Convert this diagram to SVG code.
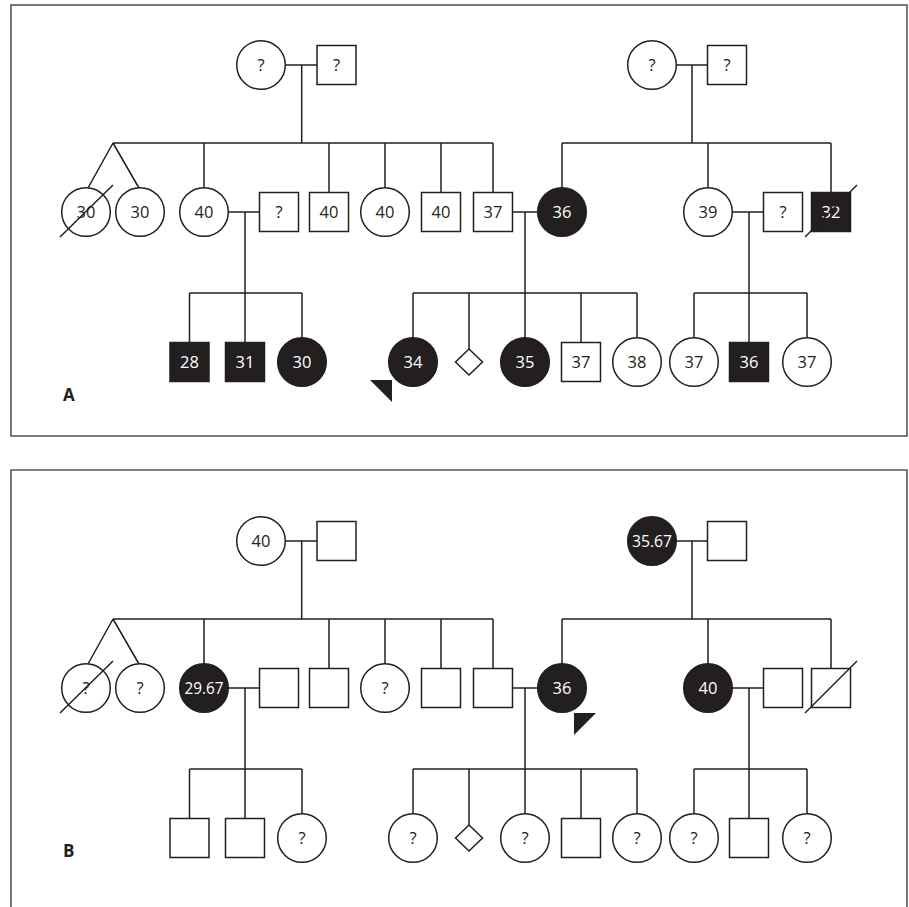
<svg xmlns="http://www.w3.org/2000/svg" width="909" height="907" viewBox="0 0 909 907">
<style>
.frame{fill:none;stroke:#58595b;stroke-width:1.6}
.n{fill:#fff;stroke:#231f20;stroke-width:1.5}
.f{fill:#231f20;stroke:#231f20;stroke-width:1.5}
.l{fill:none;stroke:#231f20;stroke-width:1.5}
.t{font-family:"Open Sans","Liberation Sans",sans-serif;font-size:16.5px;text-anchor:middle;fill:#231f20}
.tw{font-family:"Open Sans","Liberation Sans",sans-serif;font-size:16.5px;text-anchor:middle;fill:#fff}
.lab{font-family:"Open Sans","Liberation Sans",sans-serif;font-size:17px;font-weight:bold;fill:#231f20}
</style>
<rect width="909" height="907" fill="#fff"/>
<rect class="frame" x="11" y="5" width="896" height="431"/>
<path class="frame" d="M11,910 V470 H907 V910"/>

<g id="connectors-A">
<path class="l" d="M285.3,65 H317 M301.7,65 V143 M113,143 H493 M113,143 L88,188 M113,143 L139,188 M204,143 V187.7 M329,143 V192.5 M385,143 V187.7 M441,143 V192.5 M493,143 V192.5"/>
<path class="l" d="M676.3,65 H707.5 M692,65 V143 M562,143 H831 M562,143 V187.7 M708,143 V187.7 M831,143 V192.5"/>
<path class="l" d="M228.3,212 H259.5 M245,212 V342.5 M189.5,293 H302 M189.5,293 V342.5 M302,293 V337.7"/>
<path class="l" d="M512.5,212 H537.7 M525,212 V337.7 M413,293 H637 M413,293 V337.7 M469,293 V349 M581,293 V342.5 M637,293 V337.7"/>
<path class="l" d="M732.3,212 H763.5 M749,212 V342.5 M694,293 H807 M694,293 V337.7 M807,293 V337.7"/>
</g>

<g id="connectors-B">
<path class="l" d="M285.3,541 H317 M301.7,541 V619 M113,619 H493 M113,619 L88,664 M113,619 L139,664 M204,619 V663.7 M329,619 V668.5 M385,619 V663.7 M441,619 V668.5 M493,619 V668.5"/>
<path class="l" d="M676.3,541 H707.5 M692,541 V619 M562,619 H831 M562,619 V663.7 M708,619 V663.7 M831,619 V668.5"/>
<path class="l" d="M228.3,688 H259.5 M245,688 V818.5 M189.5,769 H302 M189.5,769 V818.5 M302,769 V813.7"/>
<path class="l" d="M512.5,688 H537.7 M525,688 V813.7 M413,769 H637 M413,769 V813.7 M469,769 V825 M581,769 V818.5 M637,769 V813.7"/>
<path class="l" d="M732.3,688 H763.5 M749,688 V818.5 M694,769 H807 M694,769 V813.7 M807,769 V813.7"/>
</g>

<!-- Panel A -->
<g id="a-gm1"><circle class="n" cx="261" cy="65" r="24.3"/><text class="t" x="261" y="71">?</text></g>
<g id="a-gf1"><rect class="n" x="317" y="45.5" width="39" height="39"/><text class="t" x="336.5" y="71">?</text></g>
<g id="a-gm2"><circle class="n" cx="652" cy="65" r="24.3"/><text class="t" x="652" y="71">?</text></g>
<g id="a-gf2"><rect class="n" x="707.5" y="45.5" width="39" height="39"/><text class="t" x="727" y="71">?</text></g>

<g id="a-tw1"><circle class="n" cx="86" cy="212" r="24.3"/><text class="t" x="86" y="218">30</text><path class="l" d="M60,237 L113,185"/></g>
<g id="a-tw2"><circle class="n" cx="140" cy="212" r="24.3"/><text class="t" x="140" y="218">30</text></g>
<g id="a-c40"><circle class="n" cx="204" cy="212" r="24.3"/><text class="t" x="204" y="218">40</text></g>
<g id="a-sp1"><rect class="n" x="259.5" y="192.5" width="39" height="39"/><text class="t" x="279" y="218">?</text></g>
<g id="a-s40a"><rect class="n" x="309.5" y="192.5" width="39" height="39"/><text class="t" x="329" y="218">40</text></g>
<g id="a-c40b"><circle class="n" cx="385" cy="212" r="24.3"/><text class="t" x="385" y="218">40</text></g>
<g id="a-s40b"><rect class="n" x="421.5" y="192.5" width="39" height="39"/><text class="t" x="441" y="218">40</text></g>
<g id="a-s37"><rect class="n" x="473.5" y="192.5" width="39" height="39"/><text class="t" x="493" y="218">37</text></g>
<g id="a-c36"><circle class="f" cx="562" cy="212" r="24.3"/><text class="tw" x="562" y="218">36</text></g>
<g id="a-c39"><circle class="n" cx="708" cy="212" r="24.3"/><text class="t" x="708" y="218">39</text></g>
<g id="a-sp2"><rect class="n" x="763.5" y="192.5" width="39" height="39"/><text class="t" x="783" y="218">?</text></g>
<g id="a-s32"><rect class="f" x="811.5" y="192.5" width="39" height="39"/><text class="tw" x="831" y="218">32</text><path class="l" d="M805,237 L857,185"/></g>

<g id="a-s28"><rect class="f" x="170" y="342.5" width="39" height="39"/><text class="tw" x="189.5" y="368">28</text></g>
<g id="a-s31"><rect class="f" x="225.5" y="342.5" width="39" height="39"/><text class="tw" x="245" y="368">31</text></g>
<g id="a-c30"><circle class="f" cx="302" cy="362" r="24.3"/><text class="tw" x="302" y="368">30</text></g>
<g id="a-c34"><circle class="f" cx="413" cy="362" r="24.3"/><text class="tw" x="413" y="368">34</text><polygon fill="#231f20" points="370,380 392,380 392,402"/></g>
<g id="a-d"><polygon class="n" points="469,349 482.5,362 469,375 455.5,362"/></g>
<g id="a-c35"><circle class="f" cx="525" cy="362" r="24.3"/><text class="tw" x="525" y="368">35</text></g>
<g id="a-s37b"><rect class="n" x="561.5" y="342.5" width="39" height="39"/><text class="t" x="581" y="368">37</text></g>
<g id="a-c38"><circle class="n" cx="637" cy="362" r="24.3"/><text class="t" x="637" y="368">38</text></g>
<g id="a-c37a"><circle class="n" cx="694" cy="362" r="24.3"/><text class="t" x="694" y="368">37</text></g>
<g id="a-s36"><rect class="f" x="729.5" y="342.5" width="39" height="39"/><text class="tw" x="749" y="368">36</text></g>
<g id="a-c37b"><circle class="n" cx="807" cy="362" r="24.3"/><text class="t" x="807" y="368">37</text></g>
<text class="lab" x="63" y="401">A</text>

<!-- Panel B -->
<g id="b-gm1"><circle class="n" cx="261" cy="541" r="24.3"/><text class="t" x="261" y="547">40</text></g>
<g id="b-gf1"><rect class="n" x="317" y="521.5" width="39" height="39"/></g>
<g id="b-gm2"><circle class="f" cx="652" cy="541" r="24.3"/><text class="tw" x="652" y="547" textLength="40" lengthAdjust="spacingAndGlyphs">35.67</text></g>
<g id="b-gf2"><rect class="n" x="707.5" y="521.5" width="39" height="39"/></g>

<g id="b-tw1"><circle class="n" cx="86" cy="688" r="24.3"/><text class="t" x="86" y="694">?</text><path class="l" d="M60,713 L113,661"/></g>
<g id="b-tw2"><circle class="n" cx="140" cy="688" r="24.3"/><text class="t" x="140" y="694">?</text></g>
<g id="b-c2967"><circle class="f" cx="204" cy="688" r="24.3"/><text class="tw" x="204" y="694" textLength="39" lengthAdjust="spacingAndGlyphs">29.67</text></g>
<g id="b-sp1"><rect class="n" x="259.5" y="668.5" width="39" height="39"/></g>
<g id="b-s1"><rect class="n" x="309.5" y="668.5" width="39" height="39"/></g>
<g id="b-c1"><circle class="n" cx="385" cy="688" r="24.3"/><text class="t" x="385" y="694">?</text></g>
<g id="b-s2"><rect class="n" x="421.5" y="668.5" width="39" height="39"/></g>
<g id="b-s3"><rect class="n" x="473.5" y="668.5" width="39" height="39"/></g>
<g id="b-c36"><circle class="f" cx="562" cy="688" r="24.3"/><text class="tw" x="562" y="694">36</text><polygon fill="#231f20" points="574,713 596,713 574,735"/></g>
<g id="b-c40"><circle class="f" cx="708" cy="688" r="24.3"/><text class="tw" x="708" y="694">40</text></g>
<g id="b-sp2"><rect class="n" x="763.5" y="668.5" width="39" height="39"/></g>
<g id="b-s4"><rect class="n" x="811.5" y="668.5" width="39" height="39"/><path class="l" d="M805,713 L857,661"/></g>

<g id="b-s5"><rect class="n" x="170" y="818.5" width="39" height="39"/></g>
<g id="b-s6"><rect class="n" x="225.5" y="818.5" width="39" height="39"/></g>
<g id="b-c2"><circle class="n" cx="302" cy="838" r="24.3"/><text class="t" x="302" y="844">?</text></g>
<g id="b-c3"><circle class="n" cx="413" cy="838" r="24.3"/><text class="t" x="413" y="844">?</text></g>
<g id="b-d"><polygon class="n" points="469,825 482.5,838 469,851 455.5,838"/></g>
<g id="b-c4"><circle class="n" cx="525" cy="838" r="24.3"/><text class="t" x="525" y="844">?</text></g>
<g id="b-s7"><rect class="n" x="561.5" y="818.5" width="39" height="39"/></g>
<g id="b-c5"><circle class="n" cx="637" cy="838" r="24.3"/><text class="t" x="637" y="844">?</text></g>
<g id="b-c6"><circle class="n" cx="694" cy="838" r="24.3"/><text class="t" x="694" y="844">?</text></g>
<g id="b-s8"><rect class="n" x="729.5" y="818.5" width="39" height="39"/></g>
<g id="b-c7"><circle class="n" cx="807" cy="838" r="24.3"/><text class="t" x="807" y="844">?</text></g>
<text class="lab" x="63" y="857">B</text>
</svg>
